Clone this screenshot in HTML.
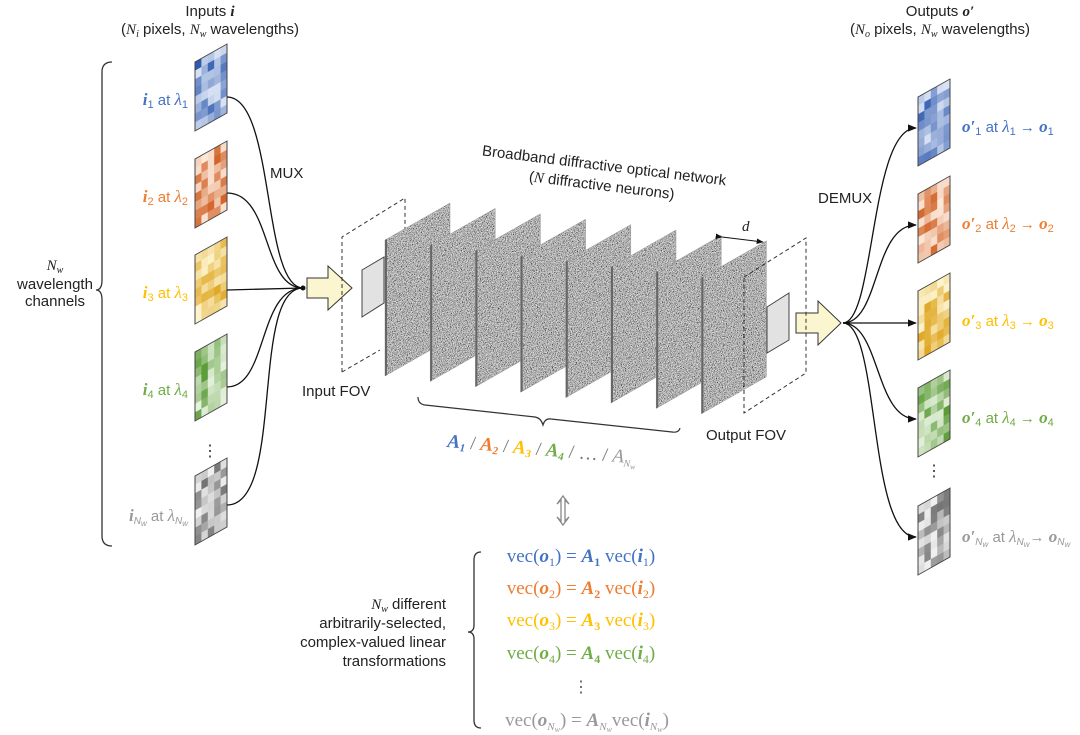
<!DOCTYPE html>
<html><head><meta charset="utf-8"><style>
html,body{margin:0;padding:0;background:#fff;width:1080px;height:735px;overflow:hidden}
svg{display:block}
.s{font-family:"Liberation Sans",sans-serif;font-size:15px;fill:#222}
.m{font-family:"Liberation Serif",serif;font-style:italic}
.e{font-family:"Liberation Serif",serif;font-size:19px}
</style></head><body>
<svg id="g" width="1080" height="735" viewBox="0 0 1080 735" xmlns="http://www.w3.org/2000/svg">
<defs>
<filter id="nz" x="0" y="0" width="100%" height="100%">
<feTurbulence type="fractalNoise" baseFrequency="1.2" numOctaves="2" seed="3"/>
<feColorMatrix values="1.7 0 0 0 -0.4 1.7 0 0 0 -0.4 1.7 0 0 0 -0.4 0 0 0 0 1"/>
</filter>
<pattern id="pn" patternUnits="userSpaceOnUse" width="200" height="200"><rect width="200" height="200" filter="url(#nz)"/></pattern>
<marker id="ah" viewBox="0 0 10 10" refX="9" refY="5" markerWidth="7" markerHeight="7" orient="auto"><path d="M0,1 L10,5 L0,9z" fill="#111"/></marker>
</defs>

<text class="s" x="210" y="16" text-anchor="middle">Inputs <tspan class="m" font-weight="bold">i</tspan></text>
<text class="s" x="210" y="34" text-anchor="middle">(<tspan class="m">N<tspan font-size="10" dy="3">i</tspan></tspan><tspan dy="-3"> pixels, </tspan><tspan class="m">N<tspan font-size="10" dy="3">w</tspan></tspan><tspan dy="-3"> wavelengths)</tspan></text>
<text class="s" x="940" y="16" text-anchor="middle">Outputs <tspan class="m" font-weight="bold">o′</tspan></text>
<text class="s" x="940" y="34" text-anchor="middle">(<tspan class="m">N<tspan font-size="10" dy="3">o</tspan></tspan><tspan dy="-3"> pixels, </tspan><tspan class="m">N<tspan font-size="10" dy="3">w</tspan></tspan><tspan dy="-3"> wavelengths)</tspan></text>

<path d="M112,62 Q102,62 102,72 L102,280 Q102,290 96,290 Q102,290 102,300 L102,536 Q102,546 112,546" fill="none" stroke="#333" stroke-width="1.3"/>
<text class="s" x="55" y="270" text-anchor="middle"><tspan class="m">N<tspan font-size="10" dy="3">w</tspan></tspan></text>
<text class="s" x="55" y="289" text-anchor="middle">wavelength</text>
<text class="s" x="55" y="306" text-anchor="middle">channels</text>

<g id="tiles"></g>

<g fill="none" stroke="#111" stroke-width="1.3">
<path d="M227,97 C275,97 262,288 303,288"/>
<path d="M227,193 C272,193 262,288 303,288"/>
<path d="M227,290 L303,288"/>
<path d="M227,387 C268,387 258,288 303,288"/>
<path d="M227,505 C285,505 250,288 303,288"/>
<path d="M843,323 C875,323 870,128 916,128" marker-end="url(#ah)"/>
<path d="M843,323 C880,323 873,225 916,225" marker-end="url(#ah)"/>
<path d="M843,323 L916,323" marker-end="url(#ah)"/>
<path d="M843,323 C880,323 875,419 916,419" marker-end="url(#ah)"/>
<path d="M843,323 C880,323 868,537 916,537" marker-end="url(#ah)"/>
</g>
<circle cx="303" cy="288" r="2.5" fill="#111"/>
<text class="s" x="270" y="178">MUX</text>
<text class="s" x="818" y="203">DEMUX</text>

<path d="M307,278 L328,278 L328,266 L352,288 L328,310 L328,298 L307,298z" fill="#fbf6cf" stroke="#333" stroke-width="1"/>
<path d="M796,313 L818,313 L818,301 L841,323 L818,345 L818,333 L796,333z" fill="#fbf6cf" stroke="#333" stroke-width="1"/>

<path d="M342,372 L342,237 L405,198 L405,240" fill="none" stroke="#333" stroke-dasharray="4,3"/>
<path d="M342,372 L380,350" fill="none" stroke="#333" stroke-dasharray="4,3"/>
<path d="M362,270 L384,257 L384,303 L362,317z" fill="#e2e2e2" stroke="#444"/>
<text class="s" x="302" y="396">Input FOV</text>

<g id="plates"></g>

<path d="M767,307 L789,293 L789,340 L767,353z" fill="#e2e2e2" stroke="#444"/>
<path d="M744,277 L806,238 L806,373 L744,413 Z" fill="none" stroke="#333" stroke-dasharray="4,3"/>
<text class="s" x="706" y="440">Output FOV</text>

<line x1="722" y1="237" x2="763" y2="242" stroke="#111" stroke-width="1" marker-start="url(#ah)" marker-end="url(#ah)"/>
<text class="s m" x="742" y="231" font-size="14">d</text>

<g transform="rotate(7 600 175)">
<text class="s" x="603" y="170" text-anchor="middle" font-size="16">Broadband diffractive optical network</text>
<text class="s" x="603" y="190" text-anchor="middle" font-size="16">(<tspan class="m">N</tspan> diffractive neurons)</text>
</g>

<path d="M418,397 Q418,404 425,405 L535,417 Q541,418 543,425 Q545,418 551,419 L672,432 Q679,433 680,428" fill="none" stroke="#333" stroke-width="1.2"/>
<text class="e" x="447" y="447" font-size="17" transform="rotate(5 447 447)"><tspan class="m" fill="#4472c4" font-weight="bold">A<tspan font-size="11" dy="3">1</tspan></tspan><tspan dy="-3" fill="#777"> / </tspan><tspan class="m" fill="#ed7d31" font-weight="bold">A<tspan font-size="11" dy="3">2</tspan></tspan><tspan dy="-3" fill="#777"> / </tspan><tspan class="m" fill="#ffc000" font-weight="bold">A<tspan font-size="11" dy="3">3</tspan></tspan><tspan dy="-3" fill="#777"> / </tspan><tspan class="m" fill="#70ad47" font-weight="bold">A<tspan font-size="11" dy="3">4</tspan></tspan><tspan dy="-3" fill="#777"> / … / </tspan><tspan class="m" fill="#999">A<tspan font-size="10" dy="4">N<tspan font-size="8" dy="2">w</tspan></tspan></tspan></text>

<path d="M561,500 L561,521 L557,517 L563,525 L569,517 L565,521 L565,500 L569,504 L563,496 L557,504z" fill="#fff" stroke="#888" stroke-width="1.3"/>

<path d="M481,552 Q474,552 474,560 L474,625 Q474,632 468,632 Q474,632 474,639 L474,720 Q474,728 481,728" fill="none" stroke="#333" stroke-width="1.3"/>
<text class="s" x="446" y="609" text-anchor="end"><tspan class="m">N<tspan font-size="10" dy="3">w</tspan></tspan><tspan dy="-3"> different</tspan></text>
<text class="s" x="446" y="628" text-anchor="end">arbitrarily-selected,</text>
<text class="s" x="446" y="647" text-anchor="end">complex-valued linear</text>
<text class="s" x="446" y="666" text-anchor="end">transformations</text>

<g class="e" text-anchor="middle">
<text x="581" y="562" fill="#4472c4">vec(<tspan class="m" font-weight="bold">o</tspan><tspan font-size="12" dy="4">1</tspan><tspan dy="-4">) = </tspan><tspan class="m" font-weight="bold">A</tspan><tspan font-size="12" dy="4" font-weight="bold">1</tspan><tspan dy="-4"> vec(</tspan><tspan class="m" font-weight="bold">i</tspan><tspan font-size="12" dy="4">1</tspan><tspan dy="-4">)</tspan></text>
<text x="581" y="594" fill="#ed7d31">vec(<tspan class="m" font-weight="bold">o</tspan><tspan font-size="12" dy="4">2</tspan><tspan dy="-4">) = </tspan><tspan class="m" font-weight="bold">A</tspan><tspan font-size="12" dy="4" font-weight="bold">2</tspan><tspan dy="-4"> vec(</tspan><tspan class="m" font-weight="bold">i</tspan><tspan font-size="12" dy="4">2</tspan><tspan dy="-4">)</tspan></text>
<text x="581" y="626" fill="#ffc000">vec(<tspan class="m" font-weight="bold">o</tspan><tspan font-size="12" dy="4">3</tspan><tspan dy="-4">) = </tspan><tspan class="m" font-weight="bold">A</tspan><tspan font-size="12" dy="4" font-weight="bold">3</tspan><tspan dy="-4"> vec(</tspan><tspan class="m" font-weight="bold">i</tspan><tspan font-size="12" dy="4">3</tspan><tspan dy="-4">)</tspan></text>
<text x="581" y="659" fill="#70ad47">vec(<tspan class="m" font-weight="bold">o</tspan><tspan font-size="12" dy="4">4</tspan><tspan dy="-4">) = </tspan><tspan class="m" font-weight="bold">A</tspan><tspan font-size="12" dy="4" font-weight="bold">4</tspan><tspan dy="-4"> vec(</tspan><tspan class="m" font-weight="bold">i</tspan><tspan font-size="12" dy="4">4</tspan><tspan dy="-4">)</tspan></text>
<text x="581" y="692" fill="#555" font-size="16">⋮</text>
<text x="587" y="726" fill="#999">vec(<tspan class="m" font-weight="bold">o</tspan><tspan class="m" font-size="11" dy="4">N<tspan font-size="8" dy="2">w</tspan></tspan><tspan dy="-6">) = </tspan><tspan class="m" font-weight="bold">A</tspan><tspan class="m" font-size="11" dy="4">N<tspan font-size="8" dy="2">w</tspan></tspan><tspan dy="-6">vec(</tspan><tspan class="m" font-weight="bold">i</tspan><tspan class="m" font-size="11" dy="4">N<tspan font-size="8" dy="2">w</tspan></tspan><tspan dy="-6">)</tspan></text>
</g>

<g id="labels"></g>
<text x="210" y="456" font-size="16" text-anchor="middle" fill="#333" font-family="Liberation Sans">⋮</text>
<text x="934" y="476" font-size="16" text-anchor="middle" fill="#333" font-family="Liberation Sans">⋮</text>
</svg>
<script>
(function(){
var NS="http://www.w3.org/2000/svg";
function el(t,a,p){var e=document.createElementNS(NS,t);for(var k in a)e.setAttribute(k,a[k]);p.appendChild(e);return e;}
var seed=7;function rnd(){seed=(seed*16807)%2147483647;return seed/2147483647;}
function mix(a,b,t){return 'rgb('+[0,1,2].map(function(i){return Math.round(a[i]+(b[i]-a[i])*t)}).join(',')+')';}
var pals=[[[47,90,175],[225,233,247]],[[210,100,40],[252,232,218]],[[222,165,30],[253,243,205]],[[90,155,55],[230,242,222]],[[110,110,110],[245,245,245]]];
var tg=document.getElementById('tiles');
function tile(x,y,p){
  var W=32,H=69,sk=-18;
  var g=el('g',{transform:'matrix(1,'+(sk/W)+',0,1,'+x+','+y+')'},tg);
  var c=5,r=8;
  for(var i=0;i<c;i++)for(var j=0;j<r;j++){
    el('rect',{x:i*W/c,y:j*H/r,width:W/c+0.3,height:H/r+0.3,fill:mix(pals[p][0],pals[p][1],Math.pow(rnd(),0.8))},g);
  }
  el('rect',{x:0,y:0,width:W,height:H,fill:'none',stroke:'#444','stroke-width':1},g);
}
var ly=[62,159,255,352,476],ry=[97,194,291,388,506];
for(var k=0;k<5;k++){tile(195,ly[k],k);tile(918,ry[k],k);}
var pg=document.getElementById('plates');
for(var i=0;i<8;i++){
  var L=385+45.2*i,T=240+5.4*i,H=136;
  var pts=L+','+T+' '+(L+65)+','+(T-37)+' '+(L+65)+','+(T-37+H)+' '+L+','+(T+H);
  el('polygon',{points:pts,fill:'url(#pn)',stroke:'#999','stroke-width':0.5},pg);
  el('polygon',{points:L+','+T+' '+(L+2)+','+(T-1)+' '+(L+2)+','+(T+H-1)+' '+L+','+(T+H),fill:'#666'},pg);
}
var lb=document.getElementById('labels');
var cols=['#4472c4','#ed7d31','#ffc000','#70ad47','#999'];
var sub=['1','2','3','4'];
function lab(x,y,anchor,html){var t=el('text',{x:x,y:y,'text-anchor':anchor,'font-family':'Liberation Sans','font-size':15},lb);t.innerHTML=html;}
for(var k=0;k<4;k++){
  var c=cols[k];
  lab(188,ly[k]+43,'end','<tspan fill="'+c+'" font-family="Liberation Serif" font-style="italic" font-weight="bold" font-size="17">i</tspan><tspan fill="'+c+'" font-size="11" dy="3">'+sub[k]+'</tspan><tspan fill="'+c+'" dy="-3"> at </tspan><tspan fill="'+c+'" font-family="Liberation Serif" font-style="italic" font-size="17">λ</tspan><tspan fill="'+c+'" font-size="11" dy="3">'+sub[k]+'</tspan>');
  lab(962,ry[k]+35,'start','<tspan fill="'+c+'" font-family="Liberation Serif" font-style="italic" font-weight="bold" font-size="17">o′</tspan><tspan fill="'+c+'" font-size="11" dy="3">'+sub[k]+'</tspan><tspan fill="'+c+'" dy="-3"> at </tspan><tspan fill="'+c+'" font-family="Liberation Serif" font-style="italic" font-size="17">λ</tspan><tspan fill="'+c+'" font-size="11" dy="3">'+sub[k]+'</tspan><tspan fill="'+c+'" dy="-3"> → </tspan><tspan fill="'+c+'" font-family="Liberation Serif" font-style="italic" font-weight="bold" font-size="17">o</tspan><tspan fill="'+c+'" font-size="11" dy="3">'+sub[k]+'</tspan>');
}
var g='#999';
lab(188,ly[4]+45,'end','<tspan fill="'+g+'" font-family="Liberation Serif" font-style="italic" font-weight="bold" font-size="17">i</tspan><tspan fill="'+g+'" font-size="10" dy="3" font-style="italic">N<tspan font-size="8" dy="2">w</tspan></tspan><tspan fill="'+g+'" dy="-5"> at </tspan><tspan fill="'+g+'" font-family="Liberation Serif" font-style="italic" font-size="17">λ</tspan><tspan fill="'+g+'" font-size="10" dy="3" font-style="italic">N<tspan font-size="8" dy="2">w</tspan></tspan>');
lab(962,ry[4]+36,'start','<tspan fill="'+g+'" font-family="Liberation Serif" font-style="italic" font-weight="bold" font-size="17">o′</tspan><tspan fill="'+g+'" font-size="10" dy="3" font-style="italic">N<tspan font-size="8" dy="2">w</tspan></tspan><tspan fill="'+g+'" dy="-5"> at </tspan><tspan fill="'+g+'" font-family="Liberation Serif" font-style="italic" font-size="17">λ</tspan><tspan fill="'+g+'" font-size="10" dy="3" font-style="italic">N<tspan font-size="8" dy="2">w</tspan></tspan><tspan fill="'+g+'" dy="-5">→ </tspan><tspan fill="'+g+'" font-family="Liberation Serif" font-style="italic" font-weight="bold" font-size="17">o</tspan><tspan fill="'+g+'" font-size="10" dy="3" font-style="italic">N<tspan font-size="8" dy="2">w</tspan></tspan>');
})();
</script>
</body></html>
